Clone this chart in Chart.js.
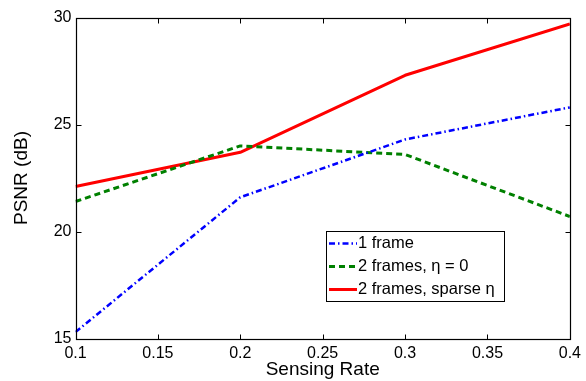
<!DOCTYPE html>
<html>
<head>
<meta charset="utf-8">
<script src="https://cdn.jsdelivr.net/npm/chart.js@4.4.1/dist/chart.umd.min.js"></script>
<style>
  html, body { margin: 0; padding: 0; background: #fff; }
  #wrap { width: 586px; height: 381px; }
</style>
</head>
<body>
<div id="wrap"><canvas id="chart1" width="586" height="381"></canvas></div>
<script>
  "use strict";

  // data
  var rates = [0.1, 0.2, 0.3, 0.4];
  var oneFrame = [15.3, 21.6, 24.3, 25.8];
  var twoFramesZero = [21.4, 24.0, 23.6, 20.7];
  var twoFramesSparse = [22.1, 23.7, 27.3, 29.7];
  var xTicks = [0.1, 0.15, 0.2, 0.25, 0.3, 0.35, 0.4];
  var yTicks = [15, 20, 25, 30];

  function pts(vals) {
    return rates.map(function (r, i) { return { x: r, y: vals[i] }; });
  }

  Chart.defaults.font.family = "'Liberation Sans', Arial, Helvetica, sans-serif";
  Chart.defaults.color = '#000';

  // box, inward ticks and legend, matlab style
  var frameAndLegend = {
    id: 'frameAndLegend',
    afterDraw: function (chart) {
      var c = chart.ctx, a = chart.chartArea;
      var xs = chart.scales.x, ys = chart.scales.y;
      var L = Math.round(a.left) + 0.5, R = Math.round(a.right) + 0.5;
      var T = Math.round(a.top) + 0.5, B = Math.round(a.bottom) + 0.5;
      c.save();
      c.strokeStyle = '#000';
      c.lineWidth = 1.2;
      c.strokeRect(L, T, R - L, B - T);
      c.lineWidth = 1;
      c.beginPath();
      xTicks.forEach(function (v) {
        var px = Math.round(xs.getPixelForValue(v)) + 0.5;
        c.moveTo(px, B); c.lineTo(px, B - 5);
        c.moveTo(px, T); c.lineTo(px, T + 5);
      });
      yTicks.forEach(function (v) {
        var py = Math.round(ys.getPixelForValue(v)) + 0.5;
        c.moveTo(L, py); c.lineTo(L + 5, py);
        c.moveTo(R, py); c.lineTo(R - 5, py);
      });
      c.stroke();

      // legend
      var bx = 326.5, by = 231.5, bw = 178, bh = 70;
      c.fillStyle = '#fff';
      c.fillRect(bx, by, bw, bh);
      c.strokeStyle = '#000';
      c.lineWidth = 1;
      c.strokeRect(bx, by, bw, bh);
      c.font = "16.5px 'Liberation Sans', Arial, sans-serif";
      c.textBaseline = 'middle';
      chart.data.datasets.forEach(function (ds, i) {
        var y = 243.5 + i * 23;
        c.beginPath();
        c.strokeStyle = ds.borderColor;
        c.lineWidth = ds.borderWidth;
        c.setLineDash(ds.borderDash || []);
        c.moveTo(329, y); c.lineTo(357, y);
        c.stroke();
        c.setLineDash([]);
        c.fillStyle = '#000';
        c.fillText(ds.label, 358, y);
      });
      c.restore();
    }
  };

  var ctx = document.getElementById('chart1').getContext('2d');

  var myChart = new Chart(ctx, {
    type: 'line',
    data: {
      datasets: [{
        label: '1 frame',
        data: pts(oneFrame),
        borderColor: '#0000ff',
        borderWidth: 2.5,
        borderDash: [6, 3, 1.5, 3]
      },
      {
        label: '2 frames, \u03b7 = 0',
        data: pts(twoFramesZero),
        borderColor: '#008000',
        borderWidth: 3,
        borderDash: [6, 4]
      },
      {
        label: '2 frames, sparse \u03b7',
        data: pts(twoFramesSparse),
        borderColor: '#ff0000',
        borderWidth: 3
      }]
    },
    options: {
      responsive: false,
      animation: false,
      elements: {
        point: { radius: 0 },
        line: { tension: 0, borderJoinStyle: 'round' }
      },
      layout: {
        padding: { top: 17.5, right: 13, left: 0, bottom: 0 }
      },
      plugins: {
        legend: { display: false },
        tooltip: { enabled: false }
      },
      scales: {
        x: {
          type: 'linear',
          min: 0.1,
          max: 0.4,
          afterFit: function (s) { s.height = 42.5; },
          afterBuildTicks: function (s) {
            s.ticks = xTicks.map(function (v) { return { value: v }; });
          },
          ticks: {
            padding: 5,
            maxRotation: 0,
            font: { size: 16 },
            callback: function (v) { return String(+v.toFixed(2)); }
          },
          grid: { display: false, drawTicks: false },
          border: { display: false },
          title: {
            display: true,
            text: 'Sensing Rate',
            font: { size: 19 },
            padding: { top: 0, bottom: 0 }
          }
        },
        y: {
          min: 15,
          max: 30,
          afterFit: function (s) { s.width = 75.5; },
          afterBuildTicks: function (s) {
            s.ticks = yTicks.map(function (v) { return { value: v }; });
          },
          ticks: {
            padding: 4,
            font: { size: 16 }
          },
          grid: { display: false, drawTicks: false },
          border: { display: false },
          title: {
            display: true,
            text: 'PSNR (dB)',
            font: { size: 19 },
            padding: { top: 10, bottom: 0 }
          }
        }
      }
    },
    plugins: [frameAndLegend]
  });
</script>
</body>
</html>
